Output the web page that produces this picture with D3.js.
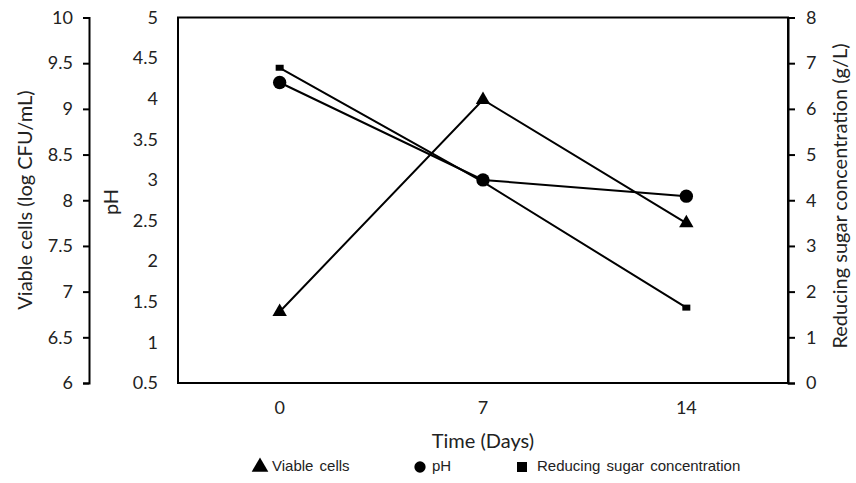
<!DOCTYPE html>
<html>
<head>
<meta charset="utf-8">
<script src="https://cdn.jsdelivr.net/npm/d3@7"></script>
<style>
  body { margin: 0; background: #fff; }
  text { font-family: Lato, "Open Sans", sans-serif; fill: #222; }
</style>
</head>
<body>
<svg id="svg" width="856" height="483"></svg>
<script>
// data
const days = ["0", "7", "14"]
const viable = [6.78, 9.1, 7.75]     // log CFU/mL
const ph = [4.2, 3.0, 2.8]
const sugar = [6.9, 4.4, 1.65]       // g/L

const viableTicks = [6, 6.5, 7, 7.5, 8, 8.5, 9, 9.5, 10]
const phTicks = [0.5, 1, 1.5, 2, 2.5, 3, 3.5, 4, 4.5, 5]
const sugarTicks = [0, 1, 2, 3, 4, 5, 6, 7, 8]

const svg = d3.select("#svg")

const plotTop = 17.5, plotBottom = 383
const plotLeft = 178, plotRight = 788

const x = d3.scaleBand().domain(days).range([plotLeft, plotRight])
const yV = d3.scaleLinear().domain([6, 10]).range([plotBottom, plotTop])
const yP = d3.scaleLinear().domain([0.5, 5]).range([plotBottom, plotTop])
const yS = d3.scaleLinear().domain([0, 8]).range([plotBottom, plotTop])
const cx = d => x(d) + x.bandwidth() / 2

// plot frame
svg.append("rect")
    .attr("x", plotLeft).attr("y", plotTop)
    .attr("width", plotRight - plotLeft).attr("height", plotBottom - plotTop)
    .attr("fill", "none").attr("stroke", "#000").attr("stroke-width", 2)

// left axis: viable cells
const axV = svg.append("g").attr("transform", "translate(89,0)")
    .call(d3.axisLeft(yV).tickValues(viableTicks).tickSize(6).tickPadding(10)
        .tickFormat(d3.format("")))
axV.select(".domain").attr("stroke-width", 2)
axV.selectAll(".tick line").attr("stroke-width", 2)

// pH axis (labels only, against the frame)
const axP = svg.append("g").attr("transform", "translate(" + plotLeft + ",0)")
    .call(d3.axisLeft(yP).tickValues(phTicks).tickSize(0).tickPadding(20)
        .tickFormat(d3.format("")))
axP.select(".domain").remove()

// right axis: reducing sugar
const axS = svg.append("g").attr("transform", "translate(" + plotRight + ",0)")
    .call(d3.axisRight(yS).tickValues(sugarTicks).tickSize(7).tickPadding(11))
axS.select(".domain").attr("stroke-width", 2)
axS.selectAll(".tick line").attr("stroke-width", 2)

// x labels
const axX = svg.append("g").attr("transform", "translate(0," + plotBottom + ")")
    .call(d3.axisBottom(x).tickSize(0).tickPadding(18))
axX.select(".domain").remove()

svg.selectAll(".tick text").attr("font-size", 18).attr("fill", "#222")
    .attr("font-family", "Lato, 'Open Sans', sans-serif")

// axis titles
svg.append("text").attr("transform", "translate(27,200) rotate(-90)")
    .attr("text-anchor", "middle").attr("dominant-baseline", "middle")
    .attr("font-size", 20).text("Viable cells (log CFU/mL)")
svg.append("text").attr("transform", "translate(113,202) rotate(-90)")
    .attr("text-anchor", "middle").attr("dominant-baseline", "middle")
    .attr("font-size", 20).text("pH")
svg.append("text").attr("transform", "translate(842,196) rotate(-90)")
    .attr("text-anchor", "middle").attr("dominant-baseline", "middle")
    .attr("font-size", 20).text("Reducing sugar concentration (g/L)")
svg.append("text").attr("x", 483).attr("y", 448)
    .attr("text-anchor", "middle").attr("font-size", 20).text("Time (Days)")

// series
const series = [
    { name: "Viable cells", vals: viable, y: yV, sym: d3.symbolTriangle, size: 90 },
    { name: "pH", vals: ph, y: yP, sym: d3.symbolCircle, size: 140 },
    { name: "Reducing sugar concentration", vals: sugar, y: yS, sym: "rect" }
]

const line = d3.line()
series.forEach(s => {
    const pts = days.map((d, i) => [cx(d), s.y(s.vals[i])])
    svg.append("path").attr("d", line(pts))
        .attr("fill", "none").attr("stroke", "#000").attr("stroke-width", 2)
    const g = svg.append("g")
    if (s.sym === "rect") {
        g.selectAll("rect").data(pts).enter().append("rect")
            .attr("x", p => p[0] - 4).attr("y", p => p[1] - 3)
            .attr("width", 8).attr("height", 6).attr("fill", "#000")
    } else {
        g.selectAll("path").data(pts).enter().append("path")
            .attr("d", d3.symbol().type(s.sym).size(s.size))
            .attr("transform", p => "translate(" + p[0] + "," + p[1] + ")")
            .attr("fill", "#000")
    }
})

// legend
const legend = [
    { name: "Viable cells", sym: d3.symbolTriangle, x: 260, tx: 272 },
    { name: "pH", sym: d3.symbolCircle, x: 420, tx: 432 },
    { name: "Reducing sugar concentration", sym: d3.symbolSquare, x: 522, tx: 537 }
]
const lg = svg.append("g").attr("transform", "translate(0,467)")
lg.selectAll("path").data(legend).enter().append("path")
    .attr("d", d => d3.symbol().type(d.sym).size(d.sym === d3.symbolTriangle ? 120 : 100)())
    .attr("transform", d => "translate(" + d.x + ",0)")
    .attr("fill", "#000")
lg.selectAll("text").data(legend).enter().append("text")
    .attr("x", d => d.tx).attr("y", 0).attr("dominant-baseline", "middle")
    .style("font-family", "'Liberation Sans', Arial, sans-serif")
    .style("font-size", "15px").style("word-spacing", "2px")
    .text(d => d.name)
</script>
</body>
</html>
